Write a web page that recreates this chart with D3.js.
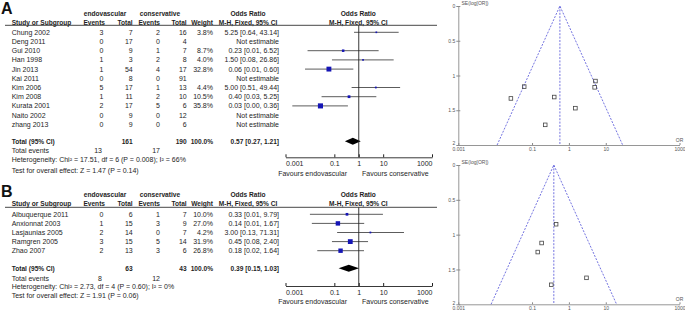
<!DOCTYPE html>
<html lang="en">
<head>
<meta charset="UTF-8">
<title>Forest and funnel plots</title>
<script src="https://d3js.org/d3.v7.min.js"></script>
<style>
  body { margin: 0; background: #fff; }
  svg { display: block; font-family: "Liberation Sans", Arial, sans-serif; }
  .t { font-size: 7px; fill: #1e1e1e; }
  .b { font-size: 6.6px; font-weight: bold; fill: #1e1e1e; }
  .letter { font-size: 16px; font-weight: bold; fill: #111; }
  .small { font-size: 5px; fill: #555; }
</style>
</head>
<body>
<svg id="chart" width="685" height="312"></svg>
<script>
// ---- panel A: studies ----
const studiesA = ["Chung 2002", "Deng 2011", "Gui 2010", "Han 1998", "Jin 2013", "Kai 2011",
                  "Kim 2006", "Kim 2008", "Kurata 2001", "Naito 2002", "zhang 2013"];
const endoEventsA = [3, 0, 0, 1, 1, 0, 5, 1, 2, 0, 0];
const endoTotalA  = [7, 17, 9, 3, 54, 8, 17, 11, 17, 9, 9];
const consEventsA = [2, 0, 1, 2, 4, 0, 1, 2, 5, 0, 0];
const consTotalA  = [16, 4, 7, 8, 17, 91, 13, 10, 6, 12, 6];
const weightA = [3.8, null, 8.7, 4.0, 32.8, null, 4.4, 10.5, 35.8, null, null];
const orA   = [5.25, null, 0.23, 1.50, 0.06, null, 5.00, 0.40, 0.027, null, null];
const lowA  = [0.64, null, 0.008, 0.08, 0.0063, null, 0.51, 0.03, 0.0019, null, null];
const highA = [43.14, null, 6.52, 26.86, 0.60, null, 49.44, 5.25, 0.36, null, null];
const totalA = { endo: 161, cons: 190, endoEv: 13, consEv: 17, or: 0.57, low: 0.27, high: 1.21 };
const hetA = { chi: "17.51", df: 6, p: "0.008", i2: 66, z: "1.47", pz: "0.14" };
// funnel A (OR, SE) points
const funnelOrA = [5.25, 0.228, 1.5, 0.0613, 5.0, 0.4, 0.0267];
const funnelSeA = [1.08, 1.71, 1.47, 1.16, 1.17, 1.31, 1.33];
const funnelEdgeA = [0.0113, 28.7];

// ---- panel B ----
const studiesB = ["Albuquerque 2011", "Anxionnat 2003", "Lasjaunias 2005", "Ramgren 2005", "Zhao 2007"];
const endoEventsB = [0, 1, 2, 3, 2];
const endoTotalB  = [6, 15, 14, 15, 13];
const consEventsB = [1, 3, 0, 5, 3];
const consTotalB  = [7, 9, 7, 14, 6];
const weightB = [10.0, 27.0, 4.2, 31.9, 26.8];
const orB   = [0.33, 0.14, 3.00, 0.45, 0.18];
const lowB  = [0.01, 0.012, 0.13, 0.08, 0.02];
const highB = [9.79, 1.67, 71.31, 2.40, 1.64];
const totalB = { endo: 63, cons: 43, endoEv: 8, consEv: 12, or: 0.39, low: 0.15, high: 1.03 };
const hetB = { chi: "2.73", df: 4, p: "0.60", i2: 0, z: "1.91", pz: "0.06" };
const funnelOrB = [0.333, 0.143, 3.0, 0.45, 0.182];
const funnelSeB = [1.72, 1.25, 1.62, 0.85, 1.12];
const funnelEdgeB = [0.00774, 19.66];

const forestTicks = [0.001, 0.1, 1, 10, 1000];
const funnelXTicks = [0.001, 0.1, 1, 10, 1000];
const funnelYTicks = [0, 0.5, 1, 1.5, 2];

const svg = d3.select("#chart");
const f2 = d3.format(".2f"), f1 = d3.format(".1f");
const ink = "#1e1e1e", blue = "#1515b5";

const xF = d3.scaleLog().domain([0.001, 1000]).range([285.5, 432]);
const xFun = d3.scaleLog().domain([0.001, 1000]).range([458.3, 679.5]);

function txt(x, y, s, cls, anchor) {
  return svg.append("text").attr("class", cls).attr("x", x).attr("y", y)
    .attr("dy", "0.35em").attr("text-anchor", anchor || "start").text(s);
}

function panel(p) {
  const n = p.studies.length;
  const yRow = d3.scalePoint().domain(p.studies).range([p.row0, p.row0 + p.step * (n - 1)]);

  svg.append("text").attr("class", "letter").attr("x", 1).attr("y", p.letterY).text(p.letter);

  // headers
  txt(105, p.h1, "endovascular", "b", "middle");
  txt(160, p.h1, "conservative", "b", "middle");
  txt(248, p.h1, "Odds Ratio", "b", "middle");
  txt(358.3, p.h1, "Odds Ratio", "b", "middle");
  txt(11.7, p.h2, "Study or Subgroup", "b");
  txt(105, p.h2, "Events", "b", "end");
  txt(132.7, p.h2, "Total", "b", "end");
  txt(160, p.h2, "Events", "b", "end");
  txt(186.7, p.h2, "Total", "b", "end");
  txt(213, p.h2, "Weight", "b", "end");
  txt(248, p.h2, "M-H, Fixed, 95% CI", "b", "middle");
  txt(358.3, p.h2, "M-H, Fixed, 95% CI", "b", "middle");
  svg.append("line").attr("x1", 5).attr("x2", 437).attr("y1", p.rule).attr("y2", p.rule)
    .attr("stroke", "#333").attr("stroke-width", 0.9);

  // study rows
  p.studies.forEach((s, i) => {
    const y = yRow(s);
    txt(11.7, y, s, "t");
    txt(103.3, y, p.endoEv[i], "t", "end");
    txt(132.7, y, p.endoTot[i], "t", "end");
    txt(160, y, p.consEv[i], "t", "end");
    txt(186.7, y, p.consTot[i], "t", "end");
    if (p.weight[i] != null) {
      txt(213, y, f1(p.weight[i]) + "%", "t", "end");
      txt(279, y, `${f2(p.or[i])} [${f2(p.low[i])}, ${f2(p.high[i])}]`, "t", "end");
      svg.append("line").attr("x1", xF(p.low[i])).attr("x2", xF(p.high[i]))
        .attr("y1", y).attr("y2", y).attr("stroke", "#4a4a4a").attr("stroke-width", 0.9);
      const side = 0.85 * Math.sqrt(p.weight[i]);
      svg.append("rect").attr("x", xF(p.or[i]) - side / 2).attr("y", y - side / 2)
        .attr("width", side).attr("height", side).attr("fill", blue);
    } else {
      txt(279, y, "Not estimable", "t", "end");
    }
  });

  // totals
  const t = p.total;
  txt(11.7, p.totalY, "Total (95% CI)", "b");
  txt(132.7, p.totalY, t.endo, "b", "end");
  txt(186.7, p.totalY, t.cons, "b", "end");
  txt(213, p.totalY, "100.0%", "b", "end");
  txt(279, p.totalY, `${f2(t.or)} [${f2(t.low)}, ${f2(t.high)}]`, "b", "end");
  svg.append("path")
    .attr("d", `M${xF(t.low)},${p.totalY} L${xF(t.or)},${p.totalY - 3.5} L${xF(t.high)},${p.totalY} L${xF(t.or)},${p.totalY + 3.5}Z`)
    .attr("fill", "#000");
  txt(11.7, p.evY, "Total events", "t");
  txt(102, p.evY, t.endoEv, "t", "end");
  txt(160, p.evY, t.consEv, "t", "end");
  const h = p.het;
  svg.append("text").attr("class", "t").attr("x", 11.7).attr("y", p.hetY).attr("dy", "0.35em")
    .text(`Heterogeneity: Chi² = ${h.chi}, df = ${h.df} (P = ${h.p}); I² = ${h.i2}%`);
  txt(11.7, p.testY, `Test for overall effect: Z = ${h.z} (P = ${h.pz})`, "t");

  // forest axis
  svg.append("line").attr("x1", xF(1)).attr("x2", xF(1)).attr("y1", p.rule).attr("y2", p.axisY)
    .attr("stroke", "#222").attr("stroke-width", 0.9);
  const ax = svg.append("g").attr("transform", `translate(0,${p.axisY})`)
    .call(d3.axisBottom(xF).tickValues(forestTicks).tickFormat(d => String(d))
      .tickSizeInner(-3).tickSizeOuter(0).tickPadding(4));
  ax.select(".domain").attr("stroke", "#222").attr("stroke-width", 0.9);
  ax.selectAll(".tick line").attr("stroke", "#222");
  ax.selectAll(".tick text").attr("font-size", 7).attr("fill", ink).attr("font-family", null)
    .attr("text-anchor", (d, i) => i === 0 ? "start" : i === forestTicks.length - 1 ? "end" : "middle");
  txt(347, p.favY, "Favours endovascular", "t", "end");
  txt(362, p.favY, "Favours conservative", "t", "start");

  // funnel plot
  const yFun = d3.scaleLinear().domain([0, 2]).range([p.fTop, p.fBot]);
  const gy = svg.append("g").attr("transform", `translate(${xFun(0.001)},0)`)
    .call(d3.axisLeft(yFun).tickValues(funnelYTicks).tickFormat(d => String(d))
      .tickSizeInner(2).tickSizeOuter(0).tickPadding(1));
  const gx = svg.append("g").attr("transform", `translate(0,${p.fBot})`)
    .call(d3.axisBottom(xFun).tickValues(funnelXTicks).tickFormat(d => String(d))
      .tickSizeInner(-2).tickSizeOuter(0).tickPadding(2.5));
  [gx, gy].forEach(g => {
    g.select(".domain").attr("stroke", "#8a8a8a").attr("stroke-width", 0.9);
    g.selectAll(".tick line").attr("stroke", "#8a8a8a");
    g.selectAll(".tick text").attr("font-size", 5).attr("fill", "#555").attr("font-family", null);
  });
  gy.selectAll(".tick line").attr("x2", 2).attr("x1", -2);
  // keep the bottom "2" clear of the "0.001" label underneath
  gy.selectAll(".tick text").filter(d => d === 2).attr("dy", "-0.05em");
  svg.append("text").attr("class", "small").attr("x", 461.5).attr("y", p.fTop - 1.5).text("SE(log[OR])");
  svg.append("text").attr("class", "small").attr("x", 679.5).attr("y", p.fBot - 3)
    .attr("text-anchor", "middle").text("OR");

  const dash = g => g.attr("stroke", "#5050d8").attr("stroke-width", 0.8)
    .attr("stroke-dasharray", "2,1.4").attr("fill", "none");
  svg.append("path").call(dash)
    .attr("d", d3.line()([[xFun(p.edge[0]), yFun(2)], [xFun(t.or), yFun(0)], [xFun(p.edge[1]), yFun(2)]]));
  svg.append("line").call(dash).attr("x1", xFun(t.or)).attr("x2", xFun(t.or))
    .attr("y1", yFun(0)).attr("y2", yFun(2));

  svg.selectAll(null).data(p.fOr).join("rect")
    .attr("x", (d, i) => xFun(d) - 1.8).attr("y", (d, i) => yFun(p.fSe[i]) - 1.8)
    .attr("width", 3.6).attr("height", 3.6)
    .attr("fill", "none").attr("stroke", "#444").attr("stroke-width", 0.8);
}

panel({
  letter: "A", letterY: 13.5, h1: 13.3, h2: 22.3, rule: 25.3, row0: 32.3, step: 9.2,
  totalY: 141.3, evY: 150.7, hetY: 160, testY: 170.7, axisY: 157.3, favY: 173.5,
  studies: studiesA, endoEv: endoEventsA, endoTot: endoTotalA, consEv: consEventsA, consTot: consTotalA,
  weight: weightA, or: orA, low: lowA, high: highA, total: totalA, het: hetA,
  fTop: 6, fBot: 145, fOr: funnelOrA, fSe: funnelSeA, edge: funnelEdgeA
});
panel({
  letter: "B", letterY: 196.7, h1: 194.8, h2: 203.3, rule: 207.3, row0: 214.3, step: 9.1,
  totalY: 268.3, evY: 278.7, hetY: 286.7, testY: 295.7, axisY: 286, favY: 301.7,
  studies: studiesB, endoEv: endoEventsB, endoTot: endoTotalB, consEv: consEventsB, consTot: consTotalB,
  weight: weightB, or: orB, low: lowB, high: highB, total: totalB, het: hetB,
  fTop: 165, fBot: 304.3, fOr: funnelOrB, fSe: funnelSeB, edge: funnelEdgeB
});
</script>
</body>
</html>
